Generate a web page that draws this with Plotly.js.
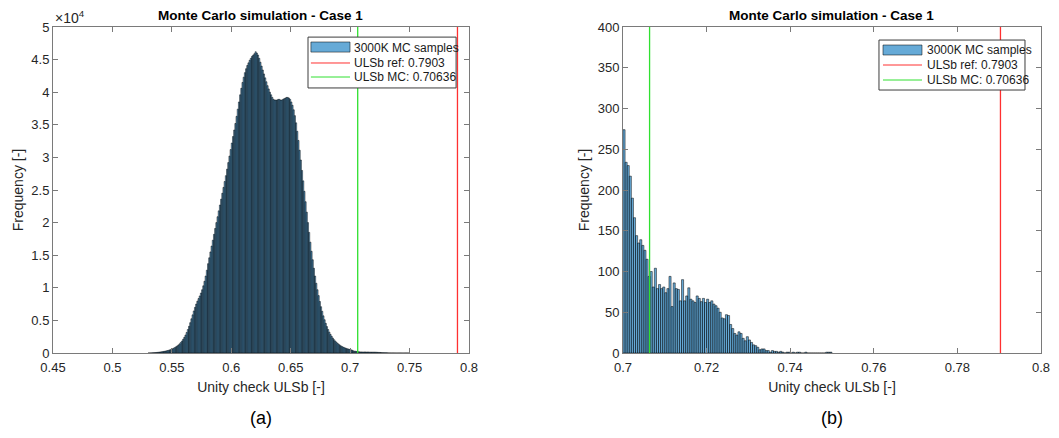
<!DOCTYPE html>
<html>
<head>
<meta charset="utf-8">
<script src="https://cdn.plot.ly/plotly-3.0.1.min.js"></script>
<style>
  html, body { margin: 0; padding: 0; background: #ffffff; }
  #chart { width: 1059px; height: 438px; }
</style>
</head>
<body>
<div id="chart"></div>
<script>
// Histogram (a): full range, bin width 0.001 starting at 0.530
const binStartA = 0.530;
const binWidthA = 0.001;
const countsA = [
  5, 10, 15, 25, 35, 50, 70, 90, 110, 135,
  160, 190, 220, 250, 290, 330, 380, 430, 490, 560,
  640, 730, 830, 950, 1080, 1230, 1400, 1600, 1830, 2100,
  2400, 2750, 3150, 3600, 4100, 4650, 5250, 5850, 6450, 7000,
  7500, 7950, 8350, 8750, 9200, 9700, 10300, 11000, 11800, 12700,
  13700, 14600, 15500, 16400, 17300, 18200, 19100, 20000, 20900, 21800,
  22700, 23600, 24500, 25400, 26300, 27200, 28200, 29200, 30200, 31200,
  32200, 33200, 34200, 35200, 36300, 37400, 38500, 39600, 40600, 41500,
  42300, 43000, 43600, 44100, 44500, 44900, 45200, 45500, 45700, 45900,
  46200, 46000, 45700, 45200, 44600, 44000, 43400, 42800, 42200, 41600,
  41000, 40500, 40000, 39600, 39200, 38900, 38800, 38800, 38800, 38900,
  38900, 38800, 38800, 38900, 39000, 39100, 39200, 39200, 39100, 38900,
  38500, 38000, 37300, 36400, 35300, 34000, 32600, 31100, 29600, 28000,
  26400, 24800, 23200, 21600, 20000, 18500, 17000, 15600, 14300, 13000,
  11800, 10700, 9700, 8800, 7900, 7100, 6400, 5700, 5100, 4550,
  4050, 3600, 3200, 2850, 2550, 2280, 2040, 1830, 1640, 1470,
  1320, 1190, 1070, 960, 870, 790, 720, 660, 610, 560,
  508, 447, 356, 279, 271, 241, 194, 185, 163, 160,
  153, 151, 165, 142, 154, 150, 130, 132, 130, 129,
  128, 124, 113, 93, 89, 81, 54, 48, 42, 35,
  29, 19, 11, 10, 6, 4, 4, 3, 1, 2,
  1, 2, 1, 1, 0, 0, 0, 0, 2, 1
];

// Histogram (b): upper tail above 0.70, bin width 0.0005
const binStartB = 0.700;
const binWidthB = 0.0005;
const countsB = [
  274, 234, 230, 217, 190, 166, 144, 135, 139, 132, 126, 115,
  94, 100, 81, 104, 79, 84, 79, 81, 74, 79, 94, 57,
  86, 79, 78, 64, 90, 64, 70, 80, 66, 64, 62, 70,
  67, 63, 67, 62, 66, 62, 64, 60, 58,
  55, 50, 43, 42, 47, 46, 35, 30, 24, 22, 26, 24,
  18, 15, 20, 16, 13, 10, 9, 7, 4, 5, 5, 3, 3, 1,
  3, 2, 2, 1, 2, 1, 0, 1, 1, 0, 1, 0, 1, 1, 0, 0, 1, 0, 0, 0,
  0, 0, 0, 0, 0, 0, 1, 1, 1
];

const ulsbRef = 0.7903;
const ulsbMC = 0.70636;

const yMaxA = 50000;
const yMaxB = 400;

const sampleLabel = '3000K MC samples';
const refLabel = 'ULSb ref: ' + ulsbRef;
const mcLabel = 'ULSb MC: ' + ulsbMC;
const chartTitle = 'Monte Carlo simulation - Case 1';
const xTitle = 'Unity check ULSb [-]';
const yTitle = 'Frequency [-]';

const yTicksA = [0, 5000, 10000, 15000, 20000, 25000, 30000, 35000, 40000, 45000, 50000];
const yTickTextA = ['0', '0.5', '1', '1.5', '2', '2.5', '3', '3.5', '4', '4.5', '5'];

const centers = (start, w, n) => Array.from({length: n}, (_, i) => start + (i + 0.5) * w);

const FACE = 'rgba(0,114,189,0.6)';
const EDGE = '#000000';
const AXIS = '#7a7a7a';
const TXT = '#262626';
const RED = '#ff3030';
const GREEN = '#30e030';
const FONT = '"Liberation Sans", Arial, Helvetica, sans-serif';

function histTrace(start, w, counts, xa, ya) {
  return {
    type: 'bar', x: centers(start, w, counts.length), y: counts,
    width: w, xaxis: xa, yaxis: ya, name: sampleLabel,
    marker: {color: FACE, line: {color: EDGE, width: 0.5}},
    showlegend: false, hoverinfo: 'x+y'
  };
}
// vertical marker spanning the full y range of its subplot
function markerLine(value, ymax, color, name, xa, ya) {
  return {
    type: 'scatter', mode: 'lines', x: [value, value], y: [0, ymax],
    xaxis: xa, yaxis: ya, name: name, line: {color: color, width: 1.3},
    showlegend: false, hoverinfo: 'x', cliponaxis: true
  };
}

const traces = [
  histTrace(binStartA, binWidthA, countsA, 'x', 'y'),
  markerLine(ulsbRef, yMaxA, RED, refLabel, 'x', 'y'),
  markerLine(ulsbMC, yMaxA, GREEN, mcLabel, 'x', 'y'),
  histTrace(binStartB, binWidthB, countsB, 'x2', 'y2'),
  markerLine(ulsbRef, yMaxB, RED, refLabel, 'x2', 'y2'),
  markerLine(ulsbMC, yMaxB, GREEN, mcLabel, 'x2', 'y2')
];

function axisX(domain, anchor, range, tick0, dtick) {
  return {
    domain: domain, anchor: anchor, range: range, tick0: tick0, dtick: dtick,
    ticks: 'inside', ticklen: 5, tickcolor: AXIS, tickwidth: 1, ticklabelstandoff: 2,
    showline: true, linecolor: AXIS, linewidth: 1, mirror: 'ticks',
    showgrid: false, zeroline: false, fixedrange: true,
    tickfont: {family: FONT, size: 13, color: TXT},
    title: {text: xTitle, font: {family: FONT, size: 14, color: TXT}, standoff: 8}
  };
}
function axisY(anchor, range, extra) {
  return Object.assign({
    domain: [0, 1], anchor: anchor, range: range,
    ticks: 'inside', ticklen: 5, tickcolor: AXIS, tickwidth: 1,
    showline: true, linecolor: AXIS, linewidth: 1, mirror: 'ticks',
    showgrid: false, zeroline: false, fixedrange: true,
    tickfont: {family: FONT, size: 13, color: TXT},
    title: {text: yTitle, font: {family: FONT, size: 14, color: TXT}, standoff: 4}
  }, extra);
}

// legend box drawn in axis-domain coordinates
function legendShapes(xr, yr, box, sw, rows) {
  const xd = xr + ' domain', yd = yr + ' domain';
  return [
    {type: 'rect', xref: xd, yref: yd, x0: box[0], x1: box[1], y0: box[2], y1: box[3],
     fillcolor: '#ffffff', line: {color: '#3c3c3c', width: 1}, layer: 'above'},
    {type: 'rect', xref: xd, yref: yd, x0: sw[0], x1: sw[1], y0: sw[2], y1: sw[3],
     fillcolor: FACE, line: {color: EDGE, width: 0.5}, layer: 'above'},
    {type: 'line', xref: xd, yref: yd, x0: sw[0], x1: sw[1], y0: rows[1], y1: rows[1],
     line: {color: RED, width: 1}, layer: 'above'},
    {type: 'line', xref: xd, yref: yd, x0: sw[0], x1: sw[1], y0: rows[2], y1: rows[2],
     line: {color: GREEN, width: 1}, layer: 'above'}
  ];
}
function legendText(xr, yr, tx, rows) {
  const labels = [sampleLabel, refLabel, mcLabel];
  return labels.map((t, i) => ({
    xref: xr + ' domain', yref: yr + ' domain', x: tx, y: rows[i],
    xanchor: 'left', yanchor: 'middle', showarrow: false, text: t,
    font: {family: FONT, size: 12, color: '#1a1a1a'}
  }));
}

const rowsA = [0.9356, 0.8896, 0.8466];
const rowsB = [0.9294, 0.8834, 0.8374];

const shapes = [].concat(
  legendShapes('x', 'y', [0.613, 0.969, 0.813, 0.969], [0.620, 0.714, 0.923, 0.954], rowsA),
  legendShapes('x2', 'y2', [0.6124, 0.9617, 0.8067, 0.960], [0.622, 0.7153, 0.9141, 0.9448], rowsB)
);

const annotations = [
  {xref: 'x domain', yref: 'paper', x: 0.5, y: 1.0368, xanchor: 'center', yanchor: 'middle',
   showarrow: false, text: '<b>' + chartTitle + '</b>', font: {family: FONT, size: 13.5, color: '#000'}},
  {xref: 'x2 domain', yref: 'paper', x: 0.5, y: 1.0368, xanchor: 'center', yanchor: 'middle',
   showarrow: false, text: '<b>' + chartTitle + '</b>', font: {family: FONT, size: 13.5, color: '#000'}},
  {xref: 'x domain', yref: 'paper', x: 0, y: 1.0307, xanchor: 'left', yanchor: 'middle',
   showarrow: false, text: '\u00d710<sup>4</sup>', font: {family: FONT, size: 14, color: TXT}},
  {xref: 'x domain', yref: 'paper', x: 0.5, y: -0.1994, xanchor: 'center', yanchor: 'middle',
   showarrow: false, text: '(a)', font: {family: FONT, size: 18, color: '#000'}},
  {xref: 'x2 domain', yref: 'paper', x: 0.5, y: -0.1994, xanchor: 'center', yanchor: 'middle',
   showarrow: false, text: '(b)', font: {family: FONT, size: 18, color: '#000'}}
].concat(legendText('x', 'y', 0.719, rowsA), legendText('x2', 'y2', 0.7225, rowsB));

const layout = {
  width: 1059, height: 438,
  margin: {l: 53, r: 18, t: 27, b: 85},
  paper_bgcolor: '#ffffff', plot_bgcolor: '#ffffff',
  bargap: 0, barmode: 'overlay', showlegend: false,
  font: {family: FONT, color: TXT},
  xaxis: axisX([0, 0.42105], 'y', [0.45, 0.8], 0.45, 0.05),
  yaxis: axisY('x', [0, yMaxA], {tickmode: 'array', tickvals: yTicksA, ticktext: yTickTextA}),
  xaxis2: axisX([0.57692, 1], 'y2', [0.7, 0.8], 0.7, 0.02),
  yaxis2: axisY('x2', [0, yMaxB], {tick0: 0, dtick: 50}),
  shapes: shapes,
  annotations: annotations
};

Plotly.newPlot('chart', traces, layout, {displayModeBar: false, staticPlot: true});
</script>
</body>
</html>
